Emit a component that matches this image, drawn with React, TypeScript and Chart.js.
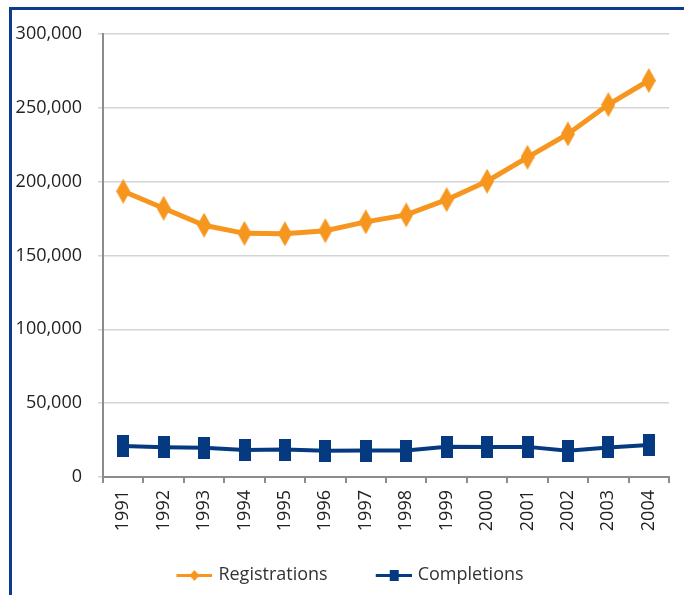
import React, { useEffect, useRef } from "react";
import { Chart, registerables } from "chart.js";

Chart.register(...registerables);

const years = ["1991","1992","1993","1994","1995","1996","1997","1998","1999","2000","2001","2002","2003","2004"];
const registrations = [193500, 182000, 170500, 165000, 164700, 166800, 172800, 177500, 187800, 200300, 216500, 232300, 252200, 268500];
const completions = [21000, 20200, 19800, 18300, 18600, 17700, 17900, 17900, 20500, 20300, 20400, 17800, 20000, 21600];
const yTicks = [0, 50000, 100000, 150000, 200000, 250000, 300000];

const ORANGE = "#F7961E";
const NAVY = "#063A80";
const FONT = "'Open Sans'";
const LEG_GAP = 22;
const LEG_FONT = 18;
const LEG_PAD = 23;

function makeCanvas(w: number, h: number, draw: (c: CanvasRenderingContext2D) => void) {
  const cv = document.createElement("canvas");
  cv.width = w;
  cv.height = h;
  const c = cv.getContext("2d")!;
  draw(c);
  return cv;
}

export default function App() {
  const ref = useRef<HTMLCanvasElement>(null);
  useEffect(() => {
    if (!ref.current) return;
    const diamond = makeCanvas(14, 25, (c) => {
      c.fillStyle = ORANGE;
      c.beginPath();
      c.moveTo(7, 0);
      c.lineTo(14, 12.5);
      c.lineTo(7, 25);
      c.lineTo(0, 12.5);
      c.closePath();
      c.fill();
    });
    const square = makeCanvas(12, 22, (c) => {
      c.fillStyle = NAVY;
      c.fillRect(0, 0, 12, 22);
    });
    const W = 36 + LEG_GAP;
    const IW = W + 6;
    const legReg = makeCanvas(IW, 12, (c) => {
      const o = LEG_GAP + 6;
      c.fillStyle = ORANGE;
      c.fillRect(o, 5, 36, 3);
      c.beginPath();
      c.moveTo(o + 18, 1);
      c.lineTo(o + 23, 6.5);
      c.lineTo(o + 18, 12);
      c.lineTo(o + 13, 6.5);
      c.closePath();
      c.fill();
    });
    const legComp = makeCanvas(IW, 12, (c) => {
      const o = LEG_GAP + 6;
      c.fillStyle = NAVY;
      c.fillRect(o, 5, 36, 3);
      c.fillRect(o + 14, 1, 9, 11);
    });

    const chart = new Chart(ref.current, {
      type: "line",
      data: {
        labels: years,
        datasets: [
          {
            label: "Registrations",
            data: registrations,
            borderColor: ORANGE,
            backgroundColor: ORANGE,
            borderWidth: 5,
            pointStyle: diamond as any,
            pointRadius: 10,
            tension: 0,
          },
          {
            label: "Completions",
            data: completions,
            borderColor: NAVY,
            backgroundColor: NAVY,
            borderWidth: 4,
            pointStyle: square as any,
            pointRadius: 10,
            tension: 0,
          },
        ],
      },
      options: {
        animation: false,
        responsive: false,
        devicePixelRatio: 1,
        layout: { padding: { top: 34, right: 9, bottom: 1, left: 0 } },
        plugins: {
          tooltip: { enabled: false },
          legend: {
            position: "bottom",
            labels: {
              usePointStyle: true,
              pointStyleWidth: W,
              padding: LEG_PAD,
              color: "#333",
              font: { family: FONT, size: LEG_FONT },
              generateLabels: (ch: any) =>
                ch.data.datasets.map((d: any, i: number) => ({
                  text: d.label,
                  pointStyle: i === 0 ? legReg : legComp,
                  fillStyle: d.borderColor,
                  strokeStyle: d.borderColor,
                  lineWidth: 0,
                  hidden: false,
                  datasetIndex: i,
                  fontColor: "#333",
                })),
            },
          },
        },
        scales: {
          x: {
            offset: true,
            grid: {
              offset: true,
              drawOnChartArea: false,
              drawTicks: true,
              tickLength: 6,
              color: "#8c8c8c",
              lineWidth: 2,
            },
            border: { color: "#8c8c8c", width: 2 },
            ticks: {
              minRotation: 90,
              maxRotation: 90,
              padding: 7,
              color: "#222",
              font: { family: FONT, size: 18 },
            },
            afterFit: (axis: any) => {
              axis.height = 595 - 1 - (LEG_FONT + LEG_PAD + 10) - 477;
            },
          },
          y: {
            min: 0,
            max: 300000,
            afterBuildTicks: (axis: any) => {
              axis.ticks = yTicks.map((v) => ({ value: v }));
            },
            grid: {
              color: "#d4d4d4",
              lineWidth: 1.5,
              tickLength: 5,
            },
            border: { color: "#8c8c8c", width: 2 },
            ticks: {
              padding: 16,
              color: "#222",
              font: { family: FONT, size: 18 },
              callback: (v: any) => Number(v).toLocaleString("en-US"),
            },
            afterFit: (axis: any) => {
              axis.width = 103;
            },
          },
        },
      },
    });
    return () => chart.destroy();
  }, []);

  return (
    <div style={{ position: "absolute", left: 0, top: 0, width: 684, height: 595, overflow: "hidden", background: "#fff" }}>
      <div
        style={{
          position: "absolute",
          left: 9,
          top: 7,
          width: 800,
          height: 800,
          borderTop: "3px solid #0B3D8C",
          borderLeft: "3px solid #0B3D8C",
        }}
      />
      <canvas ref={ref} width={684} height={595} style={{ position: "absolute", left: 0, top: 0 }} />
    </div>
  );
}
